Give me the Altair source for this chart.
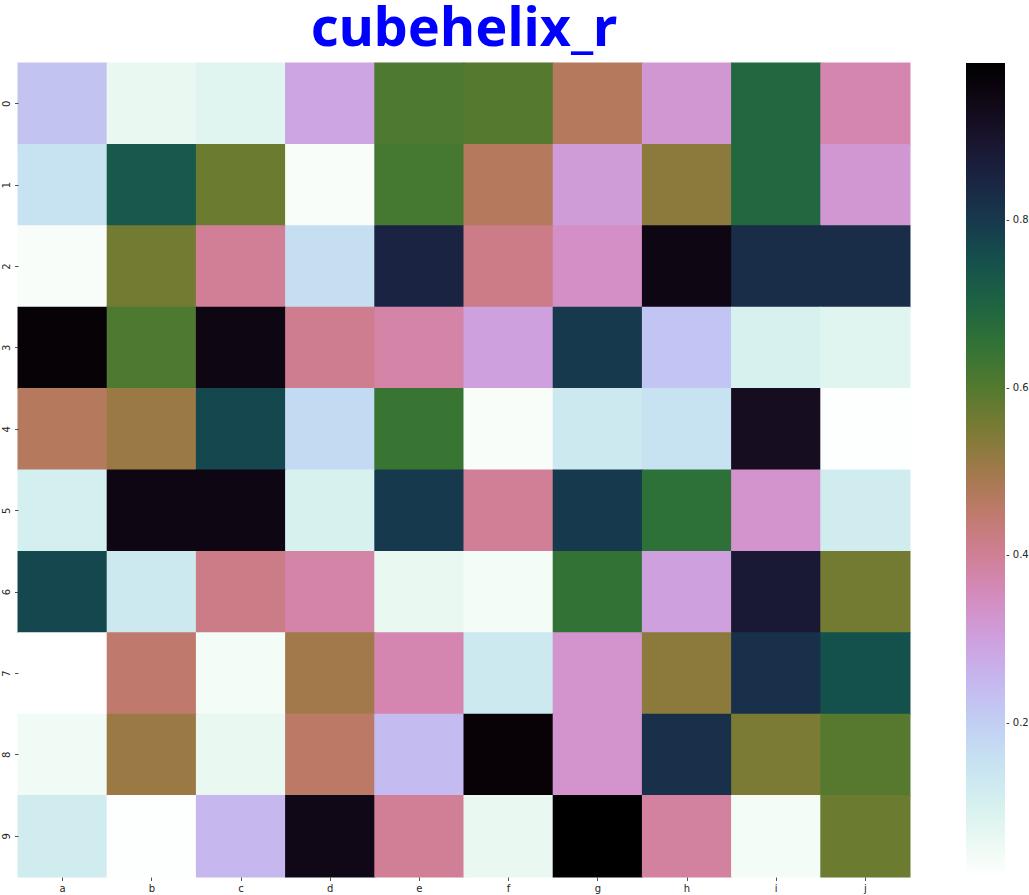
import numpy as np
import pandas as pd
import altair as alt

cols = ["a", "b", "c", "d", "e", "f", "g", "h", "i", "j"]
rows = ["0", "1", "2", "3", "4", "5", "6", "7", "8", "9"]

r0 = [0.225, 0.06, 0.08, 0.29, 0.61, 0.60, 0.47, 0.32, 0.69, 0.37]
r1 = [0.15, 0.73, 0.57, 0.03, 0.62, 0.47, 0.31, 0.53, 0.69, 0.32]
r2 = [0.03, 0.56, 0.40, 0.16, 0.85, 0.42, 0.34, 0.95, 0.83, 0.83]
r3 = [0.975, 0.61, 0.95, 0.41, 0.38, 0.30, 0.80, 0.22, 0.10, 0.08]
r4 = [0.47, 0.51, 0.77, 0.17, 0.64, 0.03, 0.13, 0.15, 0.92, 0.02]
r5 = [0.11, 0.95, 0.95, 0.10, 0.80, 0.40, 0.80, 0.66, 0.33, 0.12]
r6 = [0.77, 0.13, 0.42, 0.38, 0.06, 0.04, 0.65, 0.30, 0.88, 0.56]
r7 = [0.016, 0.45, 0.04, 0.50, 0.37, 0.13, 0.33, 0.53, 0.82, 0.75]
r8 = [0.045, 0.51, 0.06, 0.46, 0.24, 0.97, 0.33, 0.82, 0.55, 0.595]
r9 = [0.12, 0.02, 0.25, 0.94, 0.40, 0.06, 0.988, 0.39, 0.04, 0.57]
grid = [r0, r1, r2, r3, r4, r5, r6, r7, r8, r9]

legend_ticks = [0.2, 0.4, 0.6, 0.8]

records = []
for ri, rv in zip(rows, grid):
    for ci, v in zip(cols, rv):
        records.append({"row": ri, "col": ci, "value": v})
df = pd.DataFrame(records)


def cubehelix_r(v):
    x = 1.0 - v
    a = x * (1 - x) / 2
    phi = 2 * np.pi * (0.5 / 3 - 1.5 * x)
    c, s = np.cos(phi), np.sin(phi)
    r = x + a * (-0.14861 * c + 1.78277 * s)
    g = x + a * (-0.29227 * c - 0.90649 * s)
    b = x + a * (1.97294 * c)
    rgb = np.clip([r, g, b], 0, 1)
    return "#%02x%02x%02x" % tuple(int(round(k * 255)) for k in rgb)


vmin = float(df["value"].min())
vmax = float(df["value"].max())
N = 64
stops = np.linspace(0, 1, N)
dom = [float(vmin + t * (vmax - vmin)) for t in stops]
rng = [cubehelix_r(t) for t in stops]

chart = (
    alt.Chart(df)
    .mark_rect(width=90.2, height=82.4)
    .encode(
        x=alt.X(
            "col:N",
            sort=cols,
            scale=alt.Scale(paddingInner=0, paddingOuter=0),
            axis=alt.Axis(
                title=None,
                labelAngle=0,
                labelFont="DejaVu Sans",
                labelFontSize=10,
                labelColor="#262626",
                tickColor="#262626",
                tickSize=3.5,
                tickWidth=0.8,
                domain=False,
                labelPadding=3,
            ),
        ),
        y=alt.Y(
            "row:N",
            sort=rows,
            scale=alt.Scale(paddingInner=0, paddingOuter=0),
            axis=alt.Axis(
                title=None,
                labelAngle=270,
                labelAlign="center",
                labelBaseline="bottom",
                labelFont="DejaVu Sans",
                labelFontSize=10,
                labelColor="#262626",
                tickColor="#262626",
                tickSize=3.5,
                tickWidth=0.8,
                domain=False,
                labelPadding=3,
            ),
        ),
        color=alt.Color(
            "value:Q",
            scale=alt.Scale(domain=dom, range=rng, interpolate="rgb"),
            legend=alt.Legend(
                title=None,
                orient="right",
                offset=56,
                padding=0,
                gradientLength=814,
                gradientThickness=39,
                gradientStrokeWidth=0,
                values=legend_ticks,
                labelExpr="'- ' + format(datum.value, '.1f')",
                labelFont="DejaVu Sans",
                labelFontSize=10,
                labelColor="#262626",
                labelOffset=1,
                labelOverlap=False,
            ),
        ),
    )
    .properties(
        width=892,
        height=814,
        autosize=alt.AutoSizeParams(type="none"),
        padding={"left": 18, "top": 63, "right": 119, "bottom": 18},
        title=alt.TitleParams(
            "cubehelix_r",
            color="blue",
            font="Comic Sans MS, Noto Sans",
            fontWeight="bold",
            fontSize=54,
            anchor="middle",
            offset=6,
        ),
    )
    .configure_view(stroke=None)
)

chart.save("out.html", embed_options={"renderer": "svg", "actions": False})
